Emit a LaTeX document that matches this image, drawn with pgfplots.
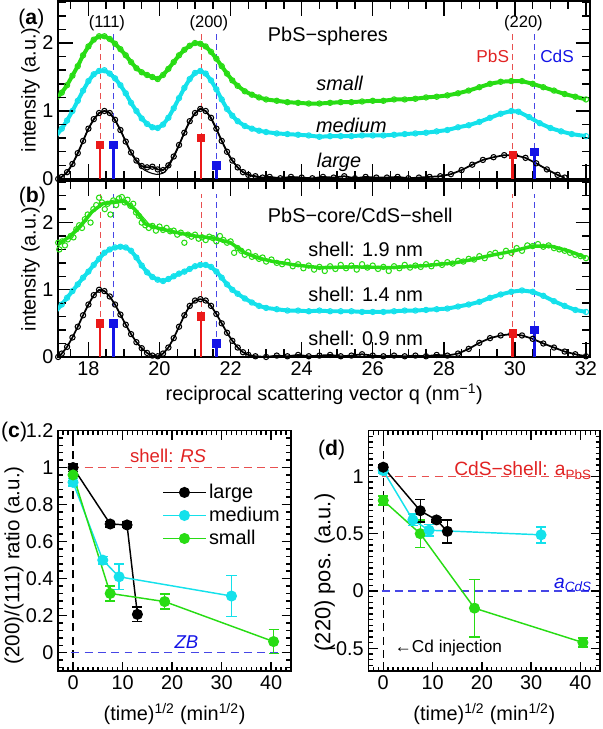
\documentclass[border=0pt]{standalone}
\usepackage{fontspec}
\setmainfont{Liberation Sans}
\usepackage{pgfplots}
\pgfplotsset{compat=1.18}

\definecolor{sgreen}{RGB}{40,220,20}
\definecolor{scyan}{RGB}{20,225,235}
\definecolor{sred}{RGB}{235,25,25}
\definecolor{dred}{RGB}{232,80,80}
\definecolor{tred}{RGB}{225,35,35}
\definecolor{sblue}{RGB}{20,20,230}
\definecolor{dblue}{RGB}{70,70,230}

\newcommand{\fsz}[1]{\fontsize{#1}{#1}\selectfont}

\pgfplotsset{
  panel/.style={scale only axis, axis line style={line width=1.4pt},
    tick style={line width=1.1pt, black}, tick align=inside,
    tick label style={font=\fsz{15}}, label style={font=\fsz{15}},
    /pgf/number format/assume math mode=true},
  spec/.style={panel, anchor=north west, width=401.25pt,
    xmin=17.15, xmax=32.12, ymin=0, ymax=2.62,
    xtick={18,20,...,32}, ytick={0,1,2},
    minor x tick num=3, minor y tick num=4,
    major tick length=11pt, minor tick length=6pt,
    ylabel={intensity (a.u.)},
    y label style={at={(axis description cs:-0.052,0.5)}, anchor=center}},
  band/.style={line width=3pt, line join=round, mark=o, mark size=2pt,
    mark options={solid, line width=0.8pt}},
  kband/.style={line width=1.3pt, line join=round, mark=o, mark size=2pt,
    mark options={solid, line width=0.8pt}},
  dots/.style={only marks, mark=o, mark size=2pt, mark options={line width=0.8pt}},
  refl/.style={ycomb, line width=0.8pt, dash pattern=on 4.5pt off 3pt},
  tp/.style={line width=1.1pt, mark=*, mark size=3.6pt,
    error bars/.cd, y dir=both, y explicit,
    error bar style={line width=1.1pt},
    error mark options={rotate=90, mark size=3.8pt, line width=1.1pt}},
}

% tick marks of the two spectrum panels (inward, on all four sides)
\newcommand{\spectticks}{%
\addplot[black, line width=1.1pt, forget plot, unbounded coords=jump] coordinates {
(17.5,0)(17.5,.117)(17.5,nan)(17.5,2.503)(17.5,2.62)(17.5,nan)
(18.5,0)(18.5,.117)(18.5,nan)(18.5,2.503)(18.5,2.62)(18.5,nan)
(19,0)(19,.117)(19,nan)(19,2.503)(19,2.62)(19,nan)
(19.5,0)(19.5,.117)(19.5,nan)(19.5,2.503)(19.5,2.62)(19.5,nan)
(20.5,0)(20.5,.117)(20.5,nan)(20.5,2.503)(20.5,2.62)(20.5,nan)
(21,0)(21,.117)(21,nan)(21,2.503)(21,2.62)(21,nan)
(21.5,0)(21.5,.117)(21.5,nan)(21.5,2.503)(21.5,2.62)(21.5,nan)
(22.5,0)(22.5,.117)(22.5,nan)(22.5,2.503)(22.5,2.62)(22.5,nan)
(23,0)(23,.117)(23,nan)(23,2.503)(23,2.62)(23,nan)
(23.5,0)(23.5,.117)(23.5,nan)(23.5,2.503)(23.5,2.62)(23.5,nan)
(24.5,0)(24.5,.117)(24.5,nan)(24.5,2.503)(24.5,2.62)(24.5,nan)
(25,0)(25,.117)(25,nan)(25,2.503)(25,2.62)(25,nan)
(25.5,0)(25.5,.117)(25.5,nan)(25.5,2.503)(25.5,2.62)(25.5,nan)
(26.5,0)(26.5,.117)(26.5,nan)(26.5,2.503)(26.5,2.62)(26.5,nan)
(27,0)(27,.117)(27,nan)(27,2.503)(27,2.62)(27,nan)
(27.5,0)(27.5,.117)(27.5,nan)(27.5,2.503)(27.5,2.62)(27.5,nan)
(28.5,0)(28.5,.117)(28.5,nan)(28.5,2.503)(28.5,2.62)(28.5,nan)
(29,0)(29,.117)(29,nan)(29,2.503)(29,2.62)(29,nan)
(29.5,0)(29.5,.117)(29.5,nan)(29.5,2.503)(29.5,2.62)(29.5,nan)
(30.5,0)(30.5,.117)(30.5,nan)(30.5,2.503)(30.5,2.62)(30.5,nan)
(31,0)(31,.117)(31,nan)(31,2.503)(31,2.62)(31,nan)
(31.5,0)(31.5,.117)(31.5,nan)(31.5,2.503)(31.5,2.62)(31.5,nan)
(18,0)(18,.215)(18,nan)(18,2.405)(18,2.62)(18,nan)
(20,0)(20,.215)(20,nan)(20,2.405)(20,2.62)(20,nan)
(22,0)(22,.215)(22,nan)(22,2.405)(22,2.62)(22,nan)
(24,0)(24,.215)(24,nan)(24,2.405)(24,2.62)(24,nan)
(26,0)(26,.215)(26,nan)(26,2.405)(26,2.62)(26,nan)
(28,0)(28,.215)(28,nan)(28,2.405)(28,2.62)(28,nan)
(30,0)(30,.215)(30,nan)(30,2.405)(30,2.62)(30,nan)
(32,0)(32,.215)(32,nan)(32,2.405)(32,2.62)(32,nan)
(17.15,0.2)(17.374,0.2)(nan,0.2)(31.896,0.2)(32.12,0.2)(nan,0.2)
(17.15,0.4)(17.374,0.4)(nan,0.4)(31.896,0.4)(32.12,0.4)(nan,0.4)
(17.15,0.6)(17.374,0.6)(nan,0.6)(31.896,0.6)(32.12,0.6)(nan,0.6)
(17.15,0.8)(17.374,0.8)(nan,0.8)(31.896,0.8)(32.12,0.8)(nan,0.8)
(17.15,1.2)(17.374,1.2)(nan,1.2)(31.896,1.2)(32.12,1.2)(nan,1.2)
(17.15,1.4)(17.374,1.4)(nan,1.4)(31.896,1.4)(32.12,1.4)(nan,1.4)
(17.15,1.6)(17.374,1.6)(nan,1.6)(31.896,1.6)(32.12,1.6)(nan,1.6)
(17.15,1.8)(17.374,1.8)(nan,1.8)(31.896,1.8)(32.12,1.8)(nan,1.8)
(17.15,2.2)(17.374,2.2)(nan,2.2)(31.896,2.2)(32.12,2.2)(nan,2.2)
(17.15,2.4)(17.374,2.4)(nan,2.4)(31.896,2.4)(32.12,2.4)(nan,2.4)
(17.15,2.6)(17.374,2.6)(nan,2.6)(31.896,2.6)(32.12,2.6)(nan,2.6)
(17.15,1)(17.56,1)(nan,1)(31.71,1)(32.12,1)(nan,1)
(17.15,2)(17.56,2)(nan,2)(31.71,2)(32.12,2)(nan,2)};}

% x tick marks shared by (c) and (d): #1 ymin, #2 ymin+minor, #3 ymin+major, #4 ymax-major, #5 ymax-minor, #6 ymax
\newcommand{\timeticks}[6]{%
\addplot[black, line width=1.1pt, forget plot, unbounded coords=jump] coordinates {
(-2,#1)(-2,#2)(-2,nan)(-2,#5)(-2,#6)(-2,nan) (-1,#1)(-1,#2)(-1,nan)(-1,#5)(-1,#6)(-1,nan)
(1,#1)(1,#2)(1,nan)(1,#5)(1,#6)(1,nan) (2,#1)(2,#2)(2,nan)(2,#5)(2,#6)(2,nan)
(3,#1)(3,#2)(3,nan)(3,#5)(3,#6)(3,nan) (4,#1)(4,#2)(4,nan)(4,#5)(4,#6)(4,nan)
(5,#1)(5,#2)(5,nan)(5,#5)(5,#6)(5,nan) (6,#1)(6,#2)(6,nan)(6,#5)(6,#6)(6,nan)
(7,#1)(7,#2)(7,nan)(7,#5)(7,#6)(7,nan) (8,#1)(8,#2)(8,nan)(8,#5)(8,#6)(8,nan)
(9,#1)(9,#2)(9,nan)(9,#5)(9,#6)(9,nan) (11,#1)(11,#2)(11,nan)(11,#5)(11,#6)(11,nan)
(12,#1)(12,#2)(12,nan)(12,#5)(12,#6)(12,nan) (13,#1)(13,#2)(13,nan)(13,#5)(13,#6)(13,nan)
(14,#1)(14,#2)(14,nan)(14,#5)(14,#6)(14,nan) (15,#1)(15,#2)(15,nan)(15,#5)(15,#6)(15,nan)
(16,#1)(16,#2)(16,nan)(16,#5)(16,#6)(16,nan) (17,#1)(17,#2)(17,nan)(17,#5)(17,#6)(17,nan)
(18,#1)(18,#2)(18,nan)(18,#5)(18,#6)(18,nan) (19,#1)(19,#2)(19,nan)(19,#5)(19,#6)(19,nan)
(21,#1)(21,#2)(21,nan)(21,#5)(21,#6)(21,nan) (22,#1)(22,#2)(22,nan)(22,#5)(22,#6)(22,nan)
(23,#1)(23,#2)(23,nan)(23,#5)(23,#6)(23,nan) (24,#1)(24,#2)(24,nan)(24,#5)(24,#6)(24,nan)
(25,#1)(25,#2)(25,nan)(25,#5)(25,#6)(25,nan) (26,#1)(26,#2)(26,nan)(26,#5)(26,#6)(26,nan)
(27,#1)(27,#2)(27,nan)(27,#5)(27,#6)(27,nan) (28,#1)(28,#2)(28,nan)(28,#5)(28,#6)(28,nan)
(29,#1)(29,#2)(29,nan)(29,#5)(29,#6)(29,nan) (31,#1)(31,#2)(31,nan)(31,#5)(31,#6)(31,nan)
(32,#1)(32,#2)(32,nan)(32,#5)(32,#6)(32,nan) (33,#1)(33,#2)(33,nan)(33,#5)(33,#6)(33,nan)
(34,#1)(34,#2)(34,nan)(34,#5)(34,#6)(34,nan) (35,#1)(35,#2)(35,nan)(35,#5)(35,#6)(35,nan)
(36,#1)(36,#2)(36,nan)(36,#5)(36,#6)(36,nan) (37,#1)(37,#2)(37,nan)(37,#5)(37,#6)(37,nan)
(38,#1)(38,#2)(38,nan)(38,#5)(38,#6)(38,nan) (39,#1)(39,#2)(39,nan)(39,#5)(39,#6)(39,nan)
(41,#1)(41,#2)(41,nan)(41,#5)(41,#6)(41,nan) (42,#1)(42,#2)(42,nan)(42,#5)(42,#6)(42,nan)
(43,#1)(43,#2)(43,nan)(43,#5)(43,#6)(43,nan)
(0,#1)(0,#3)(0,nan)(0,#4)(0,#6)(0,nan) (10,#1)(10,#3)(10,nan)(10,#4)(10,#6)(10,nan)
(20,#1)(20,#3)(20,nan)(20,#4)(20,#6)(20,nan) (30,#1)(30,#3)(30,nan)(30,#4)(30,#6)(30,nan)
(40,#1)(40,#3)(40,nan)(40,#4)(40,#6)(40,nan)};}

\begin{document}
\begin{tikzpicture}
\draw[white, line width=0pt] (0pt,0pt) rectangle (453pt,-546.75pt);

% ---------------- (a) PbS spheres
\begin{axis}[spec, at={(42.75pt,0pt)}, height=134.25pt, xticklabels={}]
\addplot[dred, refl] coordinates {(18.33,2.17) (21.17,2.17) (29.94,2.17)};
\addplot[dblue, refl] coordinates {(18.70,2.17) (21.60,2.17) (30.55,2.17)};
% small
\addplot[sgreen, band] coordinates {
(17.10,1.18) (17.25,1.27) (17.40,1.38) (17.55,1.52) (17.70,1.66) (17.85,1.82)
(18.00,1.95) (18.15,2.05) (18.30,2.10) (18.45,2.10) (18.60,2.06) (18.75,1.99)
(18.90,1.91) (19.05,1.82) (19.20,1.72) (19.35,1.63) (19.50,1.57) (19.65,1.53)
(19.80,1.50) (19.95,1.47) (20.10,1.53) (20.25,1.62) (20.40,1.72) (20.55,1.82)
(20.70,1.90) (20.85,1.96) (21.00,2.00) (21.15,1.99) (21.30,1.95) (21.45,1.87)
(21.60,1.77) (21.75,1.66) (21.90,1.55) (22.05,1.45) (22.20,1.37) (22.40,1.29)
(22.60,1.24) (22.80,1.20) (23.00,1.17) (23.30,1.15) (23.60,1.13) (23.90,1.12)
(24.20,1.11) (24.50,1.11) (24.80,1.12) (25.10,1.13) (25.40,1.13) (25.70,1.14)
(26.00,1.15) (26.30,1.15) (26.60,1.17) (26.90,1.17) (27.20,1.18) (27.50,1.20)
(27.80,1.21) (28.10,1.23) (28.40,1.26) (28.70,1.30) (29.00,1.35) (29.30,1.40)
(29.60,1.43) (29.90,1.44) (30.20,1.44) (30.50,1.40) (30.80,1.35) (31.10,1.30)
(31.40,1.25) (31.70,1.21) (32.00,1.17)};
% medium
\addplot[scyan, band] coordinates {
(17.10,0.64) (17.25,0.74) (17.40,0.86) (17.55,1.00) (17.70,1.15) (17.85,1.30)
(18.00,1.44) (18.15,1.54) (18.30,1.59) (18.45,1.60) (18.60,1.55) (18.75,1.48)
(18.90,1.38) (19.05,1.26) (19.20,1.12) (19.35,1.00) (19.50,0.89) (19.65,0.81)
(19.80,0.76) (19.95,0.75) (20.10,0.80) (20.25,0.90) (20.40,1.04) (20.55,1.19)
(20.70,1.34) (20.85,1.47) (21.00,1.56) (21.15,1.59) (21.30,1.55) (21.45,1.45)
(21.60,1.32) (21.75,1.17) (21.90,1.03) (22.05,0.93) (22.20,0.85) (22.40,0.78)
(22.60,0.74) (22.80,0.71) (23.00,0.69) (23.30,0.67) (23.60,0.66) (23.90,0.65)
(24.20,0.64) (24.50,0.62) (24.80,0.63) (25.10,0.63) (25.40,0.63) (25.70,0.64)
(26.00,0.64) (26.30,0.64) (26.60,0.65) (26.90,0.66) (27.20,0.67) (27.50,0.68)
(27.80,0.70) (28.10,0.72) (28.40,0.76) (28.70,0.79) (29.00,0.84) (29.30,0.90)
(29.60,0.96) (29.90,1.00) (30.10,0.99) (30.40,0.91) (30.70,0.82) (31.00,0.75)
(31.30,0.70) (31.60,0.66) (32.00,0.63)};
% large
\addplot[black, kband] coordinates {
(17.15,0.00) (17.25,0.03) (17.40,0.10) (17.55,0.22) (17.70,0.38) (17.85,0.56)
(18.00,0.74) (18.15,0.88) (18.30,0.97) (18.45,1.00) (18.60,0.97) (18.75,0.87)
(18.90,0.72) (19.05,0.55) (19.20,0.39) (19.35,0.27) (19.50,0.19) (19.65,0.17)
(19.80,0.18) (19.95,0.14) (20.10,0.13) (20.25,0.20) (20.40,0.33) (20.55,0.50)
(20.70,0.68) (20.85,0.85) (21.00,0.97) (21.15,1.03) (21.30,1.00) (21.45,0.90)
(21.60,0.74) (21.75,0.56) (21.90,0.40) (22.05,0.27) (22.20,0.17) (22.35,0.10)
(22.50,0.06) (22.70,0.04) (22.90,0.02) (23.10,0.03) (23.40,0.01) (23.70,0.03)
(24.00,0.02) (24.30,0.01) (24.60,0.03) (24.90,0.02) (25.20,0.04) (25.50,0.01)
(25.80,0.03) (26.10,0.02) (26.40,0.02) (26.70,0.03) (27.00,0.01) (27.30,0.02)
(27.60,0.03) (27.90,0.04) (28.20,0.07) (28.50,0.13) (28.80,0.21) (29.10,0.28)
(29.40,0.32) (29.70,0.35) (30.00,0.35) (30.30,0.31) (30.60,0.23) (30.90,0.14)
(31.20,0.06) (31.40,0.02)};
\addplot[black, line width=0.8pt, smooth] coordinates {
(17.15,0.01) (17.40,0.09) (17.70,0.37) (18.00,0.74) (18.30,0.97) (18.45,1.00)
(18.60,0.97) (18.90,0.72) (19.20,0.38) (19.50,0.16) (19.80,0.08) (20.00,0.07)
(20.20,0.13) (20.50,0.43) (20.80,0.80) (21.10,1.02) (21.20,1.03) (21.40,0.93)
(21.70,0.62) (22.00,0.30) (22.30,0.12) (22.60,0.04) (23.00,0.01)};
\addplot[sred, ycomb, line width=2pt, mark=square*, mark size=2.2pt] coordinates {(18.33,0.50) (21.17,0.60) (29.94,0.35)};
\addplot[sblue, ycomb, line width=2pt, mark=square*, mark size=2.2pt] coordinates {(18.70,0.50) (21.60,0.20) (30.55,0.40)};
\spectticks
\node[font=\fsz{12.5}] at (axis cs:18.52,2.29) {(111)};
\node[font=\fsz{12.5}] at (axis cs:21.39,2.29) {(200)};
\node[font=\fsz{12.5}] at (axis cs:30.24,2.29) {(220)};
\node[font=\fsz{13}, text=tred, anchor=east, inner sep=1pt] at (axis cs:29.88,1.80) {PbS};
\node[font=\fsz{13}, text=sblue, anchor=west, inner sep=1pt] at (axis cs:30.67,1.80) {CdS};
\node[font=\fsz{15}] at (axis cs:24.74,2.10) {PbS−spheres};
\node[font=\fsz{15}] at (axis cs:25.07,1.40) {\itshape small};
\node[font=\fsz{15}] at (axis cs:25.40,0.79) {\itshape medium};
\node[font=\fsz{15}] at (axis cs:25.05,0.25) {\itshape large};
\end{axis}

% ---------------- (b) core/shell
\begin{axis}[spec, at={(42.75pt,-135.75pt)}, height=132.75pt,
  xlabel={reciprocal scattering vector q (nm\textsuperscript{−1})},
  x label style={at={(axis description cs:0.5,-0.21)}, anchor=center}]
\addplot[dred, refl] coordinates {(18.33,2.42) (21.17,2.42) (29.94,2.42)};
\addplot[dblue, refl] coordinates {(18.70,2.42) (21.60,2.42) (30.55,2.42)};
% 1.9 nm : band through the middle of the cloud, then the scattered points
\addplot[sgreen, line width=2.6pt, line join=round] coordinates {
(17.15,1.68) (17.50,1.80) (17.80,1.96) (18.10,2.16) (18.40,2.28) (18.70,2.30)
(19.00,2.32) (19.30,2.20) (19.60,1.98) (20.00,1.91) (20.50,1.85) (21.00,1.80)
(21.50,1.77) (22.00,1.70) (22.40,1.55) (22.80,1.47) (23.20,1.42) (23.80,1.37)
(24.50,1.33) (25.50,1.34) (26.50,1.33) (27.50,1.36) (28.30,1.40) (28.80,1.45)
(29.30,1.51) (29.90,1.57) (30.50,1.65) (31.00,1.65) (31.50,1.58) (32.00,1.48)};
\addplot[sgreen, dots] coordinates {
(17.15,1.70) (17.18,1.60) (17.26,1.72) (17.34,1.66) (17.42,1.75) (17.50,1.80)
(17.58,1.78) (17.66,1.90) (17.74,1.96) (17.82,1.92) (17.90,2.05) (17.98,2.12)
(18.06,2.00) (18.14,2.20) (18.22,2.26) (18.30,2.37) (18.38,2.30) (18.46,2.20)
(18.54,2.28) (18.62,2.12) (18.70,2.33) (18.78,2.26) (18.86,2.36) (18.94,2.38)
(19.02,2.30) (19.10,2.34) (19.18,2.25) (19.26,2.28) (19.34,2.15) (19.42,2.10)
(19.50,2.00) (19.60,1.96) (19.70,1.92) (19.80,1.95) (19.90,1.88) (20.00,1.94)
(20.10,1.89) (20.20,1.92) (20.30,1.87) (20.40,1.88) (20.50,1.82) (20.60,1.85)
(20.70,1.70) (20.80,1.82) (20.90,1.79) (21.00,1.82) (21.10,1.76) (21.20,1.78)
(21.30,1.74) (21.40,1.79) (21.50,1.77) (21.60,1.72) (21.70,1.80) (21.80,1.74)
(21.90,1.70) (22.00,1.72) (22.10,1.55) (22.20,1.62) (22.30,1.58) (22.40,1.52)
(22.50,1.56) (22.60,1.49) (22.70,1.50) (22.80,1.46) (22.90,1.48) (23.00,1.42)
(23.15,1.45) (23.30,1.40) (23.45,1.38) (23.60,1.42) (23.75,1.35) (23.90,1.38)
(24.05,1.32) (24.20,1.36) (24.35,1.30) (24.50,1.34) (24.65,1.28) (24.80,1.35)
(24.95,1.31) (25.10,1.37) (25.25,1.32) (25.40,1.36) (25.55,1.30) (25.70,1.38)
(25.85,1.33) (26.00,1.36) (26.15,1.31) (26.30,1.34) (26.45,1.28) (26.60,1.35)
(26.75,1.32) (26.90,1.37) (27.05,1.33) (27.20,1.36) (27.35,1.34) (27.50,1.38)
(27.65,1.35) (27.80,1.40) (27.95,1.37) (28.10,1.41) (28.25,1.39) (28.40,1.43)
(28.55,1.42) (28.70,1.46) (28.85,1.45) (29.00,1.50) (29.15,1.47) (29.30,1.53)
(29.45,1.55) (29.60,1.50) (29.75,1.58) (29.90,1.55) (30.05,1.62) (30.20,1.58)
(30.35,1.66) (30.50,1.65) (30.65,1.68) (30.80,1.64) (30.95,1.66) (31.10,1.62)
(31.25,1.60) (31.40,1.58) (31.55,1.55) (31.70,1.52) (31.85,1.50) (32.00,1.47)};
\addplot[sgreen, line width=0.8pt, smooth] coordinates {
(17.30,1.72) (17.60,1.88) (17.90,2.05) (18.20,2.20) (18.50,2.30) (18.80,2.34)
(19.10,2.30) (19.40,2.16) (19.70,1.98)};
% 1.4 nm
\addplot[scyan, band] coordinates {
(17.10,0.69) (17.25,0.78) (17.40,0.88) (17.55,0.98) (17.70,1.08) (17.85,1.18)
(18.00,1.27) (18.15,1.37) (18.30,1.46) (18.45,1.55) (18.60,1.60) (18.75,1.63)
(18.90,1.64) (19.05,1.63) (19.20,1.58) (19.35,1.48) (19.50,1.36) (19.65,1.26)
(19.80,1.19) (19.95,1.15) (20.10,1.13) (20.25,1.16) (20.40,1.20) (20.55,1.24)
(20.70,1.27) (20.85,1.31) (21.00,1.35) (21.15,1.37) (21.30,1.37) (21.45,1.34)
(21.60,1.27) (21.75,1.18) (21.90,1.08) (22.05,1.00) (22.20,0.94) (22.40,0.87)
(22.60,0.81) (22.80,0.76) (23.00,0.73) (23.30,0.71) (23.60,0.69) (23.90,0.69)
(24.20,0.68) (24.50,0.69) (24.80,0.68) (25.10,0.68) (25.40,0.68) (25.70,0.67)
(26.00,0.67) (26.30,0.67) (26.60,0.68) (26.90,0.69) (27.20,0.69) (27.50,0.70)
(27.80,0.71) (28.10,0.72) (28.40,0.75) (28.70,0.78) (29.00,0.82) (29.30,0.88)
(29.60,0.93) (29.90,0.97) (30.20,0.99) (30.50,0.97) (30.80,0.91) (31.10,0.83)
(31.40,0.76) (31.70,0.70) (32.00,0.67)};
% 0.9 nm
\addplot[black, kband] coordinates {
(17.15,0.00) (17.25,0.05) (17.40,0.15) (17.55,0.29) (17.70,0.45) (17.85,0.62)
(18.00,0.78) (18.15,0.92) (18.30,1.00) (18.45,0.98) (18.60,0.90) (18.75,0.78)
(18.90,0.63) (19.05,0.48) (19.20,0.34) (19.35,0.22) (19.50,0.13) (19.65,0.06)
(19.80,0.02) (19.95,0.01) (20.10,0.05) (20.25,0.14) (20.40,0.28) (20.55,0.45)
(20.70,0.62) (20.85,0.76) (21.00,0.84) (21.15,0.86) (21.30,0.84) (21.45,0.76)
(21.60,0.64) (21.75,0.50) (21.90,0.36) (22.05,0.24) (22.20,0.14) (22.35,0.07)
(22.50,0.03) (22.70,0.01) (23.00,0.00) (23.30,0.02) (23.60,0.01) (23.90,0.03)
(24.20,0.01) (24.50,0.02) (24.80,0.03) (25.10,0.01) (25.40,0.02) (25.70,0.04)
(26.00,0.02) (26.30,0.01) (26.60,0.02) (26.90,0.01) (27.20,0.02) (27.50,0.01)
(27.80,0.03) (28.10,0.02) (28.40,0.05) (28.70,0.12) (29.00,0.21) (29.30,0.28)
(29.60,0.32) (29.90,0.34) (30.20,0.32) (30.50,0.27) (30.80,0.20) (31.10,0.14)
(31.40,0.08) (31.70,0.04) (32.00,0.01)};
\addplot[sred, ycomb, line width=2pt, mark=square*, mark size=2.2pt] coordinates {(18.33,0.50) (21.17,0.60) (29.94,0.35)};
\addplot[sblue, ycomb, line width=2pt, mark=square*, mark size=2.2pt] coordinates {(18.70,0.50) (21.60,0.20) (30.55,0.40)};
\spectticks
\node[font=\fsz{15}] at (axis cs:25.65,2.11) {PbS−core/CdS−shell};
\node[font=\fsz{15}] at (axis cs:25.80,1.60) {shell: 1.9 nm};
\node[font=\fsz{15}] at (axis cs:25.80,0.93) {shell: 1.4 nm};
\node[font=\fsz{15}] at (axis cs:25.80,0.27) {shell: 0.9 nm};
\end{axis}

% ---------------- (c) ratio
\begin{axis}[panel, at={(42.75pt,-324pt)}, anchor=north west,
  width=175.5pt, height=181.5pt,
  xmin=-3, xmax=44, ymin=-0.1, ymax=1.2,
  xtick={0,10,20,30,40},
  ytick={0,0.2,0.4,0.6,0.8,1,1.2}, yticklabels={0,0.2,0.4,0.6,0.8,1,1.2},
  minor x tick num=9, minor y tick num=4,
  major tick length=7pt, minor tick length=3.5pt,
  xlabel={(time)\textsuperscript{1/2} (min\textsuperscript{1/2})},
  ylabel={(200)/(111) ratio (a.u.)},
  x label style={at={(axis description cs:0.5,-0.178)}, anchor=center},
  y label style={at={(axis description cs:-0.19,0.44)}, anchor=center, font=\fsz{15.5}},
  legend style={draw=none, fill=none, at={(axis description cs:0.43,0.80)},
    anchor=north west, font=\fsz{15}, row sep=1pt},
  legend cell align=left,
  legend image code/.code={\draw[mark repeat=2, mark phase=2] plot coordinates {(0pt,0pt) (16pt,0pt) (32pt,0pt)};}]
\addplot[black, dash pattern=on 6pt off 4pt, line width=1pt, forget plot] coordinates {(0,-0.1) (0,1.2)};
\addplot[dred, dash pattern=on 6pt off 4pt, line width=1pt, forget plot] coordinates {(-3,1) (44,1)};
\addplot[dblue, dash pattern=on 6pt off 4pt, line width=1pt, forget plot] coordinates {(-3,0) (44,0)};
\timeticks{-0.1}{-0.075}{-0.05}{1.15}{1.175}{1.2}
\addplot[black, line width=1.1pt, forget plot, unbounded coords=jump] coordinates {
(-3,-0.08)(-2.06,-0.08)(nan,-0.08)(43.06,-0.08)(44,-0.08)(nan,-0.08)
(-3,-0.04)(-2.06,-0.04)(nan,-0.04)(43.06,-0.04)(44,-0.04)(nan,-0.04)
(-3,0.04)(-2.06,0.04)(nan,0.04)(43.06,0.04)(44,0.04)(nan,0.04)
(-3,0.08)(-2.06,0.08)(nan,0.08)(43.06,0.08)(44,0.08)(nan,0.08)
(-3,0.12)(-2.06,0.12)(nan,0.12)(43.06,0.12)(44,0.12)(nan,0.12)
(-3,0.16)(-2.06,0.16)(nan,0.16)(43.06,0.16)(44,0.16)(nan,0.16)
(-3,0.24)(-2.06,0.24)(nan,0.24)(43.06,0.24)(44,0.24)(nan,0.24)
(-3,0.28)(-2.06,0.28)(nan,0.28)(43.06,0.28)(44,0.28)(nan,0.28)
(-3,0.32)(-2.06,0.32)(nan,0.32)(43.06,0.32)(44,0.32)(nan,0.32)
(-3,0.36)(-2.06,0.36)(nan,0.36)(43.06,0.36)(44,0.36)(nan,0.36)
(-3,0.44)(-2.06,0.44)(nan,0.44)(43.06,0.44)(44,0.44)(nan,0.44)
(-3,0.48)(-2.06,0.48)(nan,0.48)(43.06,0.48)(44,0.48)(nan,0.48)
(-3,0.52)(-2.06,0.52)(nan,0.52)(43.06,0.52)(44,0.52)(nan,0.52)
(-3,0.56)(-2.06,0.56)(nan,0.56)(43.06,0.56)(44,0.56)(nan,0.56)
(-3,0.64)(-2.06,0.64)(nan,0.64)(43.06,0.64)(44,0.64)(nan,0.64)
(-3,0.68)(-2.06,0.68)(nan,0.68)(43.06,0.68)(44,0.68)(nan,0.68)
(-3,0.72)(-2.06,0.72)(nan,0.72)(43.06,0.72)(44,0.72)(nan,0.72)
(-3,0.76)(-2.06,0.76)(nan,0.76)(43.06,0.76)(44,0.76)(nan,0.76)
(-3,0.84)(-2.06,0.84)(nan,0.84)(43.06,0.84)(44,0.84)(nan,0.84)
(-3,0.88)(-2.06,0.88)(nan,0.88)(43.06,0.88)(44,0.88)(nan,0.88)
(-3,0.92)(-2.06,0.92)(nan,0.92)(43.06,0.92)(44,0.92)(nan,0.92)
(-3,0.96)(-2.06,0.96)(nan,0.96)(43.06,0.96)(44,0.96)(nan,0.96)
(-3,1.04)(-2.06,1.04)(nan,1.04)(43.06,1.04)(44,1.04)(nan,1.04)
(-3,1.08)(-2.06,1.08)(nan,1.08)(43.06,1.08)(44,1.08)(nan,1.08)
(-3,1.12)(-2.06,1.12)(nan,1.12)(43.06,1.12)(44,1.12)(nan,1.12)
(-3,1.16)(-2.06,1.16)(nan,1.16)(43.06,1.16)(44,1.16)(nan,1.16)
(-3,0)(-1.13,0)(nan,0)(42.13,0)(44,0)(nan,0)
(-3,0.2)(-1.13,0.2)(nan,0.2)(42.13,0.2)(44,0.2)(nan,0.2)
(-3,0.4)(-1.13,0.4)(nan,0.4)(42.13,0.4)(44,0.4)(nan,0.4)
(-3,0.6)(-1.13,0.6)(nan,0.6)(42.13,0.6)(44,0.6)(nan,0.6)
(-3,0.8)(-1.13,0.8)(nan,0.8)(42.13,0.8)(44,0.8)(nan,0.8)
(-3,1)(-1.13,1)(nan,1)(42.13,1)(44,1)(nan,1)};
\addplot[black, tp] coordinates {
(0,1.00) +- (0,0.02) (7.5,0.695) +- (0,0.015) (10.9,0.69) +- (0,0.015) (13.0,0.207) +- (0,0.04)};
\addlegendentry{large}
\addplot[scyan, tp] coordinates {
(0,0.92) +- (0,0.02) (6.0,0.50) +- (0,0.02) (9.3,0.41) +- (0,0.07) (32.0,0.306) +- (0,0.11)};
\addlegendentry{medium}
\addplot[sgreen, tp] coordinates {
(0,0.96) +- (0,0.03) (7.5,0.32) +- (0,0.04) (18.5,0.276) +- (0,0.04) (40.5,0.06) +- (0,0.065)};
\addlegendentry{small}
\node[text=tred, font=\fsz{14}] at (axis cs:19.2,1.065) {shell: \textit{RS}};
\node[text=sblue, font=\fsz{14}] at (axis cs:22.9,0.055) {\textit{ZB}};
\end{axis}

% ---------------- (d) 220 position
\begin{axis}[panel, at={(276.75pt,-324pt)}, anchor=north west,
  width=174.75pt, height=181.5pt,
  xmin=-3, xmax=44, ymin=-0.7, ymax=1.4,
  xtick={0,10,20,30,40},
  ytick={-0.5,0,0.5,1}, yticklabels={−0.5,0,0.5,1},
  minor x tick num=9, minor y tick num=9,
  major tick length=7pt, minor tick length=3.5pt,
  xlabel={(time)\textsuperscript{1/2} (min\textsuperscript{1/2})},
  ylabel={(220) pos. (a.u.)},
  x label style={at={(axis description cs:0.5,-0.178)}, anchor=center},
  y label style={at={(axis description cs:-0.189,0.41)}, anchor=center, font=\fsz{16.5}}]
\addplot[black, dash pattern=on 6pt off 4pt, line width=1pt] coordinates {(0,-0.7) (0,1.4)};
\addplot[dred, dash pattern=on 6pt off 4pt, line width=1pt] coordinates {(-3,1) (44,1)};
\addplot[dblue, dash pattern=on 6pt off 4pt, line width=1pt] coordinates {(-3,0) (44,0)};
\timeticks{-0.7}{-0.66}{-0.62}{1.32}{1.36}{1.4}
\addplot[black, line width=1.1pt, forget plot, unbounded coords=jump] coordinates {
(-3,-0.65)(-2.06,-0.65)(nan,-0.65)(43.06,-0.65)(44,-0.65)(nan,-0.65)
(-3,-0.6)(-2.06,-0.6)(nan,-0.6)(43.06,-0.6)(44,-0.6)(nan,-0.6)
(-3,-0.55)(-2.06,-0.55)(nan,-0.55)(43.06,-0.55)(44,-0.55)(nan,-0.55)
(-3,-0.45)(-2.06,-0.45)(nan,-0.45)(43.06,-0.45)(44,-0.45)(nan,-0.45)
(-3,-0.4)(-2.06,-0.4)(nan,-0.4)(43.06,-0.4)(44,-0.4)(nan,-0.4)
(-3,-0.35)(-2.06,-0.35)(nan,-0.35)(43.06,-0.35)(44,-0.35)(nan,-0.35)
(-3,-0.3)(-2.06,-0.3)(nan,-0.3)(43.06,-0.3)(44,-0.3)(nan,-0.3)
(-3,-0.25)(-2.06,-0.25)(nan,-0.25)(43.06,-0.25)(44,-0.25)(nan,-0.25)
(-3,-0.2)(-2.06,-0.2)(nan,-0.2)(43.06,-0.2)(44,-0.2)(nan,-0.2)
(-3,-0.15)(-2.06,-0.15)(nan,-0.15)(43.06,-0.15)(44,-0.15)(nan,-0.15)
(-3,-0.1)(-2.06,-0.1)(nan,-0.1)(43.06,-0.1)(44,-0.1)(nan,-0.1)
(-3,-0.05)(-2.06,-0.05)(nan,-0.05)(43.06,-0.05)(44,-0.05)(nan,-0.05)
(-3,0.05)(-2.06,0.05)(nan,0.05)(43.06,0.05)(44,0.05)(nan,0.05)
(-3,0.1)(-2.06,0.1)(nan,0.1)(43.06,0.1)(44,0.1)(nan,0.1)
(-3,0.15)(-2.06,0.15)(nan,0.15)(43.06,0.15)(44,0.15)(nan,0.15)
(-3,0.2)(-2.06,0.2)(nan,0.2)(43.06,0.2)(44,0.2)(nan,0.2)
(-3,0.25)(-2.06,0.25)(nan,0.25)(43.06,0.25)(44,0.25)(nan,0.25)
(-3,0.3)(-2.06,0.3)(nan,0.3)(43.06,0.3)(44,0.3)(nan,0.3)
(-3,0.35)(-2.06,0.35)(nan,0.35)(43.06,0.35)(44,0.35)(nan,0.35)
(-3,0.4)(-2.06,0.4)(nan,0.4)(43.06,0.4)(44,0.4)(nan,0.4)
(-3,0.45)(-2.06,0.45)(nan,0.45)(43.06,0.45)(44,0.45)(nan,0.45)
(-3,0.55)(-2.06,0.55)(nan,0.55)(43.06,0.55)(44,0.55)(nan,0.55)
(-3,0.6)(-2.06,0.6)(nan,0.6)(43.06,0.6)(44,0.6)(nan,0.6)
(-3,0.65)(-2.06,0.65)(nan,0.65)(43.06,0.65)(44,0.65)(nan,0.65)
(-3,0.7)(-2.06,0.7)(nan,0.7)(43.06,0.7)(44,0.7)(nan,0.7)
(-3,0.75)(-2.06,0.75)(nan,0.75)(43.06,0.75)(44,0.75)(nan,0.75)
(-3,0.8)(-2.06,0.8)(nan,0.8)(43.06,0.8)(44,0.8)(nan,0.8)
(-3,0.85)(-2.06,0.85)(nan,0.85)(43.06,0.85)(44,0.85)(nan,0.85)
(-3,0.9)(-2.06,0.9)(nan,0.9)(43.06,0.9)(44,0.9)(nan,0.9)
(-3,0.95)(-2.06,0.95)(nan,0.95)(43.06,0.95)(44,0.95)(nan,0.95)
(-3,1.05)(-2.06,1.05)(nan,1.05)(43.06,1.05)(44,1.05)(nan,1.05)
(-3,1.1)(-2.06,1.1)(nan,1.1)(43.06,1.1)(44,1.1)(nan,1.1)
(-3,1.15)(-2.06,1.15)(nan,1.15)(43.06,1.15)(44,1.15)(nan,1.15)
(-3,1.2)(-2.06,1.2)(nan,1.2)(43.06,1.2)(44,1.2)(nan,1.2)
(-3,1.25)(-2.06,1.25)(nan,1.25)(43.06,1.25)(44,1.25)(nan,1.25)
(-3,1.3)(-2.06,1.3)(nan,1.3)(43.06,1.3)(44,1.3)(nan,1.3)
(-3,1.35)(-2.06,1.35)(nan,1.35)(43.06,1.35)(44,1.35)(nan,1.35)
(-3,-0.5)(-1.12,-0.5)(nan,-0.5)(42.12,-0.5)(44,-0.5)(nan,-0.5)
(-3,0)(-1.12,0)(nan,0)(42.12,0)(44,0)(nan,0)
(-3,0.5)(-1.12,0.5)(nan,0.5)(42.12,0.5)(44,0.5)(nan,0.5)
(-3,1)(-1.12,1)(nan,1)(42.12,1)(44,1)(nan,1)};
\addplot[sgreen, tp] coordinates {
(0,0.79) +- (0,0.04) (7.5,0.50) +- (0,0.12) (18.5,-0.15) +- (0,0.25) (40.5,-0.45) +- (0,0.04)};
\addplot[scyan, tp] coordinates {
(0,1.05) +- (0,0.02) (6.0,0.62) +- (0,0.05) (9.3,0.53) +- (0,0.05) (32.0,0.49) +- (0,0.07)};
\addplot[black, tp] coordinates {
(0,1.08) +- (0,0.02) (7.5,0.70) +- (0,0.10) (10.8,0.62) +- (0,0.02) (13.0,0.52) +- (0,0.10)};
\node[text=tred, anchor=east, font=\fsz{14.5}, inner sep=1pt] at (axis cs:42.6,1.05) {CdS−shell: a\textsubscript{PbS}};
\node[text=sblue, anchor=east, font=\fsz{14.5}, inner sep=1pt] at (axis cs:42.6,0.05) {\textit{a}\textsubscript{\textit{CdS}}};
\node[anchor=west, font=\fsz{13}, inner sep=1pt] at (axis cs:2.0,-0.5) {←Cd injection};
\end{axis}

% panel letters
\node[font=\fsz{16}, inner sep=0pt] at (9.5pt,-325pt) {(\textbf{c})};
\node[font=\fsz{16}] at (22.5pt,-13.5pt) {(\textbf{a})};
\node[font=\fsz{16}] at (23.25pt,-147.75pt) {(\textbf{b})};
\node[font=\fsz{16}] at (249pt,-339pt) {(\textbf{d})};
\end{tikzpicture}
\end{document}
